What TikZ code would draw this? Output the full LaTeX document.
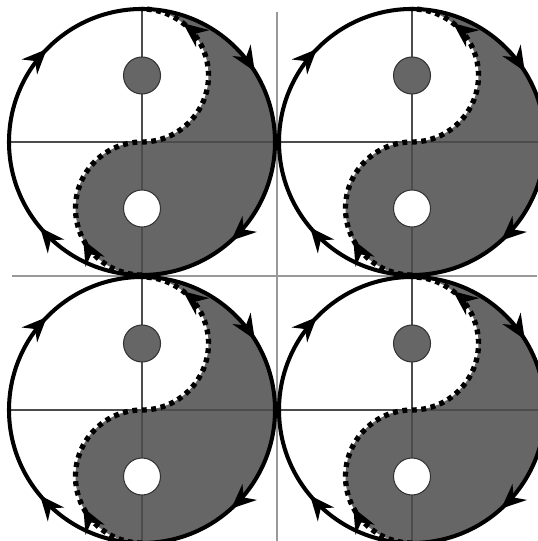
\documentclass[tikz,border=0pt]{standalone}
\usetikzlibrary{arrows.meta,decorations.markings}
\definecolor{yinfill}{HTML}{666666}

\begin{document}
\begin{tikzpicture}[
  >={Stealth[length=7pt,width=6pt]},
  rim/.style={line width=1.15pt, black},
  swirl/.style={line width=1.5pt, dash pattern=on 1.4pt off 1.3pt},
  axisline/.style={line width=0.3pt, black!70},
  frameline/.style={line width=0.6pt, black!40},
  dark/.style={fill=yinfill},
  eye/.style={draw=black!80, line width=0.3pt},
  rimarrows/.style={postaction={decorate}, decoration={markings,
    mark=at position 0.123 with {\arrow[solid]{>}},
    mark=at position 0.411 with {\arrow[solid]{>}},
    mark=at position 0.633 with {\arrow[solid]{>}},
    mark=at position 0.889 with {\arrow[solid]{>}}}},
  swirlarrows/.style={postaction={decorate}, decoration={markings,
    mark=at position 0.172 with {\arrow[solid]{>}},
    mark=at position 0.894 with {\arrow[solid]{>}}}}
]
\def\R{1.33}
\def\r{0.185}

\useasboundingbox (0,0) rectangle (5.37,5.41);

%% ── Panel frame lines ────────────────────────────────────────────────
\draw[frameline] (0.12,2.65) -- (5.37,2.65);
\draw[frameline] (2.77,5.29) -- (2.77,0);

%% ── Four yin-yang circles ───────────────────────────────────────────
\foreach \cx/\cy in {1.42/3.99, 4.12/3.99, 1.42/1.31, 4.12/1.31} {
  \begin{scope}[shift={(\cx,\cy)}]
    % dark half with the two small half discs
    \fill[dark] (0,\R) arc[start angle=90, end angle=-90, radius=\R]
      arc[start angle=-90, end angle=-270, radius=\R/2]
      arc[start angle=-90, end angle=90, radius=\R/2] -- cycle;
    \draw[axisline] (-\R,0) -- (\R,0) (0,-\R) -- (0,\R);
    % eyes
    \filldraw[eye, fill=yinfill] (0,\R/2) circle[radius=\r];
    \filldraw[eye, fill=white] (0,-\R/2) circle[radius=\r];
    % dotted S, bottom to top
    \draw[swirl, swirlarrows] (0,-\R)
      arc[start angle=-90, end angle=-270, radius=\R/2]
      arc[start angle=-90, end angle=90, radius=\R/2];
    % outer rim, clockwise
    \draw[rim, rimarrows] (-\R,0) arc[start angle=180, end angle=-180, radius=\R];
  \end{scope}
}

\end{tikzpicture}
\end{document}
